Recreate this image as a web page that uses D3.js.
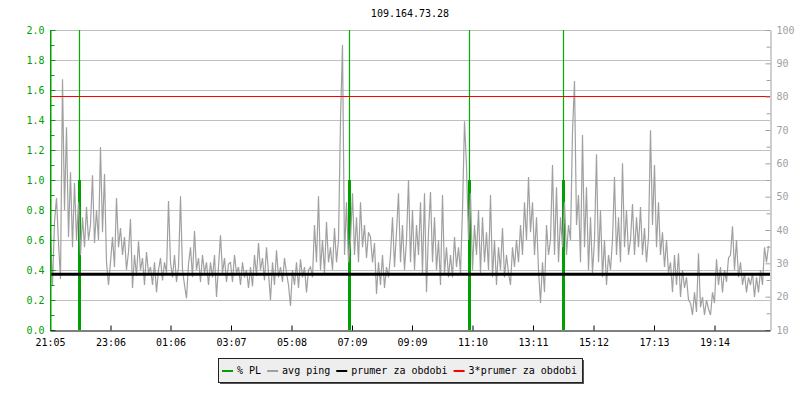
<!DOCTYPE html>
<html><head><meta charset="utf-8">
<script src="https://cdn.jsdelivr.net/npm/d3@7/dist/d3.min.js"></script>
<style>
body{margin:0;background:#fff}
svg text{font-family:"DejaVu Sans Mono",monospace;font-size:10px}
</style>
</head><body>
<svg id="chart" width="800" height="400"></svg>
<script>
// ---------- data ----------
const title = "109.164.73.28";
const tickLabels = ["21:05","23:06","01:06","03:07","05:08","07:09","09:09","11:10","13:11","15:12","17:13","19:14"];
const tickMinutes = [0,121,241,362,483,604,724,845,966,1087,1208,1329];
const totalMinutes = 1440;
const pingStepMin = 4;
// avg ping [ms], one sample every 4 minutes from 21:05
const pingMs = [
 37.9,23.5,42.4,49.6,36.1,25.3,85.2,46,70.8,37.9,
 57.3,34.8,54.1,37,48.3,32.5,43.8,34.8,46.9,37,
 41.5,56.4,36.1,46,37,64.9,39.3,56.8,30.3,23.5,
 30.3,37.9,28.9,49.6,34.8,40.6,32.5,37.9,28,33.4,
 43.3,22.6,32.5,26.2,36.6,28,31.6,23.5,33.4,27.1,
 28.9,23.5,30.3,21.3,28,31.6,24.9,30.3,27.1,48.7,
 30.3,25.8,32.5,24.4,28.9,50.1,28,23.5,19.5,29.8,
 34.8,25.8,39.7,28,31.6,24.4,32.5,27.1,30.3,23.5,
 30.3,25.8,32.5,19.9,28.9,38.4,27.1,31.6,24.4,29.8,
 30.3,24.4,32.5,27.1,28.9,23.5,30.3,25.8,28,22.6,
 28.9,23.1,32.5,26.2,36.1,28,31.6,24.9,34.8,27.1,
 19,30.3,23.5,33.9,25.8,28.9,24.4,31.6,27.1,23.5,
 17.2,28,23.5,30.3,22.6,31.2,25.8,28.9,21.3,28,
 28.9,25.8,41.5,30.3,50.1,28,37,27.1,42.4,30.3,
 34.8,28,40.6,30.3,37,73,95.5,32.5,48.3,30.3,
 37,51,32.5,43.8,30.3,48.3,34.8,41.5,31.6,39.3,
 37.9,30.3,36.1,20.8,30.3,23.5,32.5,22.6,28.9,25.8,
 32.5,43.8,28.9,39.3,51,30.3,41.5,28,37,55,
 30.3,46,28,41.5,32.5,48.3,27.1,51,21.3,39.3,
 51.4,30.3,43.8,28,37,23.5,50.5,27.1,34.8,25.8,
 32.5,25.8,37.9,28.9,34.8,27.1,46,72.6,59.1,37,
 51,28,41.5,32.5,46,27.1,43.8,30.3,39.3,28,
 50.5,25.8,37,23.5,34.8,28,40.6,25.8,32.5,27.1,
 23.5,34.8,28.9,37,30.3,41.5,32.5,48.3,37,55.9,
 39.3,48.3,32.5,43.8,28,18.1,30.3,21.3,41.5,32.5,
 37,59.5,32.5,52.8,30.3,43.8,34.8,48.3,32.5,41.5,
 37,69.4,84.7,41.5,50.5,30.3,68.5,34.8,52.8,28,
 43.8,27.1,37,62.7,30.3,46,25.8,37,23.5,32.5,
 28,37,55.9,32.5,43.8,30.3,60,34.8,46,32.5,
 37,47.8,32.5,43.8,34.8,46.9,32.5,40.6,30.3,37.9,
 69.9,41.5,59.5,34.8,48.3,32.5,39.3,28.9,37,27.1,
 30.3,21.3,32.5,23.5,33,19.9,28,22.6,25.8,19,
 18.1,14.5,21.3,15.4,33,16.8,19.9,14.5,19,16.3,
 14.5,21.3,18.1,31.2,23.5,28.9,21.3,28,24.4,31.6,
 32.5,41.1,28,37,25.8,30.3,23.5,27.1,21.3,25.8,
 23.5,27.1,19.9,25.8,21.3,28,23.5,34.8,30.3,35.2
];
// packet loss events (minutes from 21:05)
const plMinutes = [58, 598, 838, 1026];
const plValue = [1.0, 1.0, 1.0, 1.0];   // % PL
const plPeak = [2.0, 2.0, 2.0, 2.0];    // peak (clipped at top)
const prumerMs = 26.7;                  // prumer za obdobi
const prumer3Ms = 80.1;                 // 3*prumer za obdobi
const leftTicks = [0,0.2,0.4,0.6,0.8,1.0,1.2,1.4,1.6,1.8,2.0];
const leftMinor = [0.1,0.3,0.5,0.7,0.9,1.1,1.3,1.5,1.7,1.9];
const rightTicks = [10,20,30,40,50,60,70,80,90,100];
const rightMinor = [15,25,35,45,55,65,75,85,95];
const legendLabels = ["% PL","avg ping","prumer za obdobi","3*prumer za obdobi"];
const legendColors = ["#00a000","#a0a0a0","#000000","#ff0000"];

// ---------- layout ----------
const L = 50, R = 770, T = 30, B = 330;
const green = "#00a000";
const svg = d3.select("#chart");

const x = d3.scaleLinear().domain([0,totalMinutes]).range([L,R]);
const yL = d3.scaleLinear().domain([0,2]).range([B,T]);
const yR = d3.scaleLinear().domain([10,100]).range([B,T]);

// title
svg.append("text").attr("x",(L+R)/2).attr("y",17).attr("text-anchor","middle")
  .attr("fill","#000").text(title);

// gridlines
svg.append("g").selectAll("line").data(leftTicks.filter(d=>d>0)).join("line")
  .attr("x1",L+1).attr("x2",R).attr("y1",d=>Math.round(yL(d))+0.5).attr("y2",d=>Math.round(yL(d))+0.5)
  .attr("stroke","#c0c0c0").attr("stroke-width",1);

// PL thin lines (peak)
svg.append("g").selectAll("line").data(plMinutes).join("line")
  .attr("x1",d=>Math.round(x(d))+0.5).attr("x2",d=>Math.round(x(d))+0.5)
  .attr("y1",B).attr("y2",(d,i)=>yL(plPeak[i]))
  .attr("stroke","#00b000").attr("stroke-width",1.2);
// PL thick
svg.append("g").selectAll("line").data(plMinutes).join("line")
  .attr("x1",d=>Math.round(x(d))+0.5).attr("x2",d=>Math.round(x(d))+0.5)
  .attr("y1",B).attr("y2",(d,i)=>yL(plValue[i]))
  .attr("stroke",green).attr("stroke-width",3);

// ping line
const line = d3.line().x((d,i)=>x(i*pingStepMin)+0.5).y(d=>yR(d));
svg.append("path").datum(pingMs).attr("d",line)
  .attr("fill","none").attr("stroke","#a0a0a0").attr("stroke-width",1.2);

// average lines
svg.append("line").attr("x1",L).attr("x2",R).attr("y1",yR(prumerMs)).attr("y2",yR(prumerMs))
  .attr("stroke","#000").attr("stroke-width",3);
svg.append("line").attr("x1",L).attr("x2",R).attr("y1",Math.round(yR(prumer3Ms))+0.5).attr("y2",Math.round(yR(prumer3Ms))+0.5)
  .attr("stroke","#ff0000").attr("stroke-width",1);

// left axis
const gl = svg.append("g").attr("transform",`translate(${L+0.5},0)`)
  .call(d3.axisLeft(yL).tickValues(leftTicks).tickFormat(d3.format(".1f")).tickSizeInner(-5).tickSizeOuter(0).tickPadding(6));
gl.select(".domain").attr("stroke",green);
gl.selectAll(".tick line").attr("stroke",green);
gl.selectAll("text").attr("fill",green).style("font-size","10px").style("font-family","DejaVu Sans Mono");
svg.append("g").attr("transform",`translate(${L+0.5},0)`)
  .call(d3.axisLeft(yL).tickValues(leftMinor).tickFormat("").tickSizeInner(-4).tickSizeOuter(0))
  .call(g=>{g.select(".domain").remove(); g.selectAll(".tick line").attr("stroke",green);});

// right axis
const gr = svg.append("g").attr("transform",`translate(${R+0.5},0)`)
  .call(d3.axisRight(yR).tickValues(rightTicks).tickSizeInner(-5).tickSizeOuter(0).tickPadding(6));
gr.select(".domain").attr("stroke","#a0a0a0");
gr.selectAll(".tick line").attr("stroke","#a0a0a0");
gr.selectAll("text").attr("fill","#a0a0a0").style("font-size","10px").style("font-family","DejaVu Sans Mono");
svg.append("g").attr("transform",`translate(${R+0.5},0)`)
  .call(d3.axisRight(yR).tickValues(rightMinor).tickFormat("").tickSizeInner(-4).tickSizeOuter(0))
  .call(g=>{g.select(".domain").remove(); g.selectAll(".tick line").attr("stroke","#a0a0a0");});

// bottom axis
const gb = svg.append("g").attr("transform",`translate(0,${B+0.5})`)
  .call(d3.axisBottom(x).tickValues(tickMinutes).tickFormat((d,i)=>tickLabels[i]).tickSizeInner(-5).tickSizeOuter(0).tickPadding(8));
gb.select(".domain").attr("stroke","#000");
gb.selectAll(".tick line").attr("stroke","#000");
gb.selectAll("text").attr("fill","#000").style("font-size","10px").style("font-family","DejaVu Sans Mono");
svg.append("line").attr("x1",L+0.5).attr("x2",L+0.5).attr("y1",T).attr("y2",B).attr("stroke",green);

// legend
const lw = 364, lh = 24, lx = 400 - lw/2, ly = 358;
const lg = svg.append("g");
lg.append("rect").attr("x",lx+2).attr("y",ly+2).attr("width",lw).attr("height",lh).attr("fill","#555");
lg.append("rect").attr("x",lx+0.5).attr("y",ly+0.5).attr("width",lw).attr("height",lh)
  .attr("fill","#eeeeee").attr("stroke","#222");
let cx = lx + 4;
legendLabels.forEach((lab,i)=>{
  lg.append("line").attr("x1",cx).attr("x2",cx+11).attr("y1",ly+13).attr("y2",ly+13)
    .attr("stroke",legendColors[i]).attr("stroke-width",2);
  const t = lg.append("text").attr("x",cx+15).attr("y",ly+16).attr("fill","#000").text(lab);
  cx += 15 + t.node().getComputedTextLength() + 6;
});
</script>
</body></html>
